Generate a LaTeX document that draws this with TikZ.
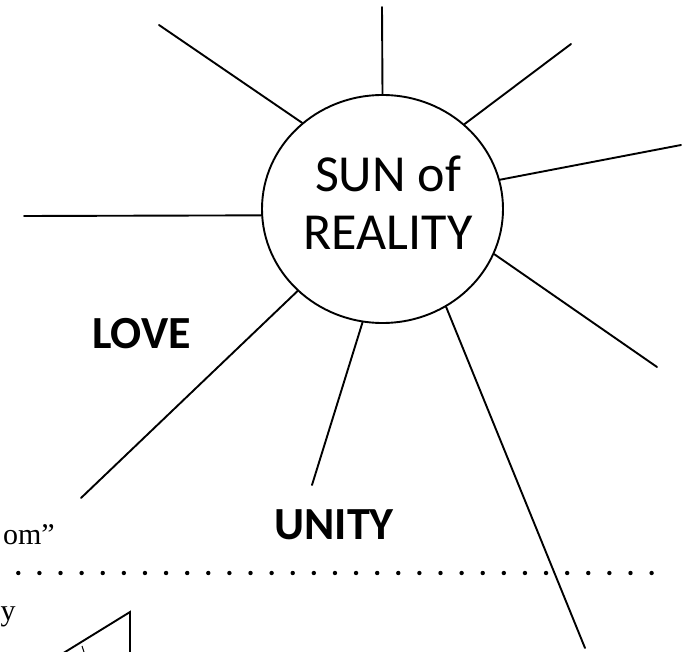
\documentclass[tikz,border=0pt]{standalone}
\usepackage{fontspec}
\setmainfont{Liberation Serif}
\newfontfamily\calfont{Carlito}
\usetikzlibrary{shapes.geometric}
\tikzset{
  ray/.style={line width=1.9pt, line cap=round},
  suntext/.style={font=\calfont\fontsize{52}{58}\selectfont, align=center, inner sep=0pt},
  bigword/.style={font=\calfont\bfseries\fontsize{46}{50}\selectfont, inner sep=0pt},
  serifbit/.style={font=\fontsize{30}{34}\selectfont, inner sep=0pt},
  dotmark/.style={fill=black}
}
\begin{document}
\begin{tikzpicture}[x=1pt,y=-1pt]
\useasboundingbox (0,0) rectangle (693,652);
\clip (0,0) rectangle (693,652);
% sun
\node[draw, ellipse, line width=1.9pt, minimum width=241pt, minimum height=228pt, inner sep=0pt] (sun) at (382.5,209) {};
\node[suntext] (label) at (388,203) {SUN of\\REALITY};
% ray ends
\coordinate (e1) at (382,7);
\coordinate (e2) at (159,25);
\coordinate (e3) at (24,216);
\coordinate (e4) at (571,44);
\coordinate (e5) at (681,145);
\coordinate (e6) at (657,367);
\coordinate (e7) at (585,648);
\coordinate (e8) at (312,485);
\coordinate (e9) at (81,498);
\draw[ray] (sun.90) -- (e1);
\draw[ray] (sun.133.8) -- (e2);
\draw[ray] (sun.183.3) -- (e3);
\draw[ray] (sun.46.9) -- (e4);
\draw[ray] (sun.14.3) -- (e5);
\draw[ray] (sun.-22.4) -- (e6);
\draw[ray] (sun.-57) -- (e7);
\draw[ray] (sun.-100) -- (e8);
\draw[ray] (sun.-136) -- (e9);
% words
\node[bigword] (love) at (141.5,333.5) {LOVE};
\node[bigword] (unity) at (334,525) {UNITY};
\node[serifbit, anchor=base east] (om) at (55,544) {om”};
\node[serifbit, anchor=base west] (yy) at (0.5,620) {y};
% dotted separator
\foreach \i in {0,...,30} \fill[dotmark] (18.3+21.11*\i,573) circle (2.2pt);
% triangle fragment
\coordinate (t1) at (130,612);
\coordinate (t2) at (130,660);
\coordinate (t3) at (57,657);
\draw[ray] (t2) -- (t1) -- (t3);
\coordinate (k1) at (82,646);
\coordinate (k2) at (84,652);
\draw[line width=1pt] (k1) -- (k2);
\end{tikzpicture}
\end{document}
